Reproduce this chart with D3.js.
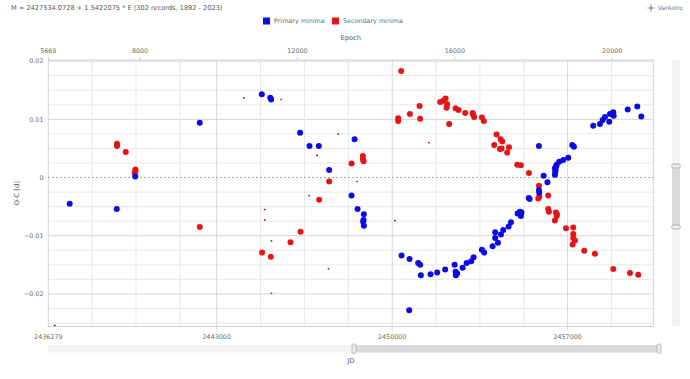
<!DOCTYPE html>
<html>
<head>
<meta charset="utf-8">
<script src="https://cdn.jsdelivr.net/npm/d3@7/dist/d3.min.js"></script>
<style>
  html, body { margin: 0; padding: 0; background: #fff; }
  svg { display: block; font-family: "DejaVu Sans", Verdana, sans-serif; }
</style>
</head>
<body>
<svg id="chart" width="690" height="379"></svg>
<script>
// ---------------- data ----------------
const titleText = "M = 2427534.0728 + 1.5422075 * E (302 records, 1892 - 2023)";
const seriesNames = ["Primary minima", "Secondary minima"];

const primaryJD = [2437133, 2439010, 2439748, 2442323, 2444798, 2445169, 2445137, 2446327, 2446702, 2447073,
  2447485, 2448499, 2448379, 2448618, 2448870, 2448858, 2448842, 2448870, 2450375, 2450694,
  2451037, 2451117, 2451145, 2450678, 2451532, 2451796, 2452115, 2452491, 2452530, 2452594,
  2452542, 2452810, 2452970, 2453153, 2453249, 2453580, 2453672, 2454008, 2454219, 2454111,
  2454111, 2454339, 2454431, 2454646, 2454738, 2455005, 2455097, 2455137, 2455484, 2455856,
  2456043, 2456195, 2455856, 2455868, 2456494, 2456494, 2456506, 2456562, 2456666, 2456826,
  2457025, 2457185, 2457253, 2458023, 2458291, 2458399, 2458490, 2458662, 2458690, 2458822,
  2458838, 2459397, 2459780, 2459939, 2455450, 2455120, 2456520, 2456540, 2455160];
const primaryOC = [-0.0045, -0.0054, 0.0002, 0.0094, 0.0143, 0.0134, 0.0137, 0.0077, 0.0054, 0.0054,
  0.0013, 0.0066, -0.0031, -0.0054, -0.0063, -0.0073, -0.0076, -0.0083, -0.0134, -0.0140,
  -0.0147, -0.0150, -0.0168, -0.0228, -0.0166, -0.0163, -0.0158, -0.0150, -0.0162, -0.0165,
  -0.0168, -0.0155, -0.0147, -0.0144, -0.0137, -0.0124, -0.0129, -0.0118, -0.0112, -0.0104,
  -0.0094, -0.0098, -0.0090, -0.0084, -0.0077, -0.0062, -0.0059, -0.0066, -0.0037, 0.0054,
  0.0003, -0.0008, -0.0022, -0.0026, 0.0016, 0.0005, 0.0010, 0.0022, 0.0027, 0.0030,
  0.0034, 0.0056, 0.0053, 0.0089, 0.0092, 0.0099, 0.0104, 0.0096, 0.0109, 0.0112,
  0.0106, 0.0117, 0.0122, 0.0105, -0.0035, -0.0064, 0.0013, 0.0019, -0.0060];

const primaryLowJD = [2444079, 2447006, 2450107, 2436534];
const primaryLowOC = [0.0137, 0.0038, -0.0074, -0.0254];

const secondaryJD = [2439021, 2439021, 2439369, 2439756, 2439756, 2439728, 2442323, 2444810, 2445157, 2445944,
  2446343, 2447085, 2447485, 2448379, 2448830, 2448830, 2448858, 2450359, 2450239, 2450239,
  2450706, 2451093, 2451117, 2451916, 2452035, 2452131, 2452195, 2452171, 2452275, 2452530,
  2452650, 2452914, 2453209, 2453233, 2453273, 2453580, 2453660, 2454167, 2454327, 2454391,
  2454071, 2454299, 2454658, 2454590, 2454367, 2454990, 2455137, 2455457, 2455856, 2455828,
  2455868, 2456227, 2456227, 2456255, 2456534, 2456562, 2456494, 2456574, 2456934, 2457225,
  2457225, 2457225, 2457293, 2457201, 2457664, 2458091, 2458822, 2459489, 2459820];
const secondaryOC = [0.0058, 0.0054, 0.0044, 0.0014, 0.0011, 0.0008, -0.0085, -0.0129, -0.0136, -0.0111,
  -0.0093, -0.0038, -0.0007, 0.0024, 0.0037, 0.0032, 0.0028, 0.0183, 0.0102, 0.0097,
  0.0109, 0.0123, 0.0101, 0.0130, 0.0132, 0.0136, 0.0126, 0.0120, 0.0092, 0.0119,
  0.0116, 0.0111, 0.0111, 0.0108, 0.0104, 0.0103, 0.0097, 0.0074, 0.0066, 0.0062,
  0.0056, 0.0049, 0.0052, 0.0043, 0.0050, 0.0022, 0.0021, 0.0008, -0.0014, -0.0036,
  -0.0033, -0.0031, -0.0054, -0.0059, -0.0060, -0.0066, -0.0074, -0.0063, -0.0087, -0.0086,
  -0.0097, -0.0104, -0.0108, -0.0115, -0.0126, -0.0131, -0.0157, -0.0164, -0.0167];

const secondaryLowJD = [2445568, 2447844, 2448602, 2446686, 2444918, 2444918, 2445185, 2447461, 2445185, 2451465];
const secondaryLowOC = [0.0134, 0.0075, -0.0007, -0.0031, -0.0055, -0.0073, -0.0109, -0.0157, -0.0199, 0.0060];

const jdTicks = [2436279, 2443000, 2450000, 2457000];
const jdMajorGrid = [2443000, 2450000, 2457000];
const jdMinorGrid = [2438029, 2439779, 2441529, 2444750, 2446500, 2448250, 2451750, 2453500, 2455250, 2458750];
const epochTicks = [5669, 8000, 12000, 16000, 20000];
const ocTicks = [0.02, 0.01, 0, -0.01, -0.02];
const ocGrid = [0.0175, 0.015, 0.0125, 0.0075, 0.005, 0.0025, -0.0025, -0.005, -0.0075, -0.0125, -0.015, -0.0175, -0.0225, -0.025];
const jdDomain = [2436279, 2460419];
const epochDomain = [5669, 21044];
const ocDomain = [-0.0256, 0.0202];

// ---------------- layout ----------------
const L = 48.3, R = 653.3, T = 60, B = 326.5;
const blue = "#0a0ae6", red = "#e61414";
const textCol = "#6b6b6b";
const fs = 6.4;

const svg = d3.select("#chart");
const x = d3.scaleLinear().domain(jdDomain).range([L, R]);
const xe = d3.scaleLinear().domain(epochDomain).range([L, R]);
const y = d3.scaleLinear().domain(ocDomain).range([B, T]);

// title
svg.append("text").attr("x", 11).attr("y", 9.5).attr("font-size", fs + 0.2).attr("fill", "#555").text(titleText);

// VarAstro logo
const logo = svg.append("g").attr("transform", "translate(651,8)");
logo.append("path").attr("d", "M0,-5 L0.7,-0.7 L5,0 L0.7,0.7 L0,5 L-0.7,0.7 L-5,0 L-0.7,-0.7 Z").attr("fill", "#888");
logo.append("text").attr("x", 7).attr("y", 2.2).attr("font-size", 5.9).attr("fill", "#777").text("VarAstro");

// legend
const legendItems = [{name: seriesNames[0], color: blue, x: 263}, {name: seriesNames[1], color: red, x: 332}];
legendItems.forEach(d => {
  svg.append("rect").attr("x", d.x).attr("y", 17.5).attr("width", 7).attr("height", 7).attr("fill", d.color);
  svg.append("text").attr("x", d.x + 11).attr("y", 23.4).attr("font-size", fs).attr("fill", textCol).text(d.name);
});

// axis titles
svg.append("text").attr("x", (L + R) / 2).attr("y", 39.5).attr("text-anchor", "middle").attr("font-size", fs + 0.3).attr("fill", "#555").text("Epoch");
svg.append("text").attr("transform", `translate(18.5,${(T + B) / 2}) rotate(-90)`).attr("text-anchor", "middle").attr("font-size", fs + 0.3).attr("fill", "#555").text("O-C [d]");
svg.append("text").attr("x", (L + R) / 2).attr("y", 362.5).attr("text-anchor", "middle").attr("font-size", fs + 0.3).attr("fill", "#555").text("JD");

// grid
const g = svg.append("g");
g.selectAll(".hg").data(ocGrid).join("line")
  .attr("x1", L).attr("x2", R).attr("y1", d => y(d)).attr("y2", d => y(d))
  .attr("stroke", "#e8e8e8").attr("stroke-width", 1);
g.selectAll(".hgM").data(ocTicks.filter(d => d !== 0)).join("line")
  .attr("x1", L).attr("x2", R).attr("y1", d => y(d)).attr("y2", d => y(d))
  .attr("stroke", "#d6d6d6").attr("stroke-width", 1);
g.selectAll(".vg").data(jdMinorGrid).join("line")
  .attr("x1", d => x(d)).attr("x2", d => x(d)).attr("y1", T).attr("y2", B)
  .attr("stroke", "#e8e8e8").attr("stroke-width", 1);
g.selectAll(".vgM").data(jdMajorGrid).join("line")
  .attr("x1", d => x(d)).attr("x2", d => x(d)).attr("y1", T).attr("y2", B + 4)
  .attr("stroke", "#d6d6d6").attr("stroke-width", 1);
// border
g.append("rect").attr("x", L).attr("y", T).attr("width", R - L).attr("height", B - T)
  .attr("fill", "none").attr("stroke", "#d4d4d4").attr("stroke-width", 1);
// zero line
g.append("line").attr("x1", L).attr("x2", R).attr("y1", y(0)).attr("y2", y(0))
  .attr("stroke", "#888").attr("stroke-width", 1).attr("stroke-dasharray", "1.5,2.5");

// axes labels
svg.selectAll(".yl").data(ocTicks).join("text")
  .attr("x", 43.5).attr("y", d => y(d) + 2.2).attr("text-anchor", "end")
  .attr("font-size", fs).attr("fill", textCol).text(d => d3.format("")(d));
svg.selectAll(".xl").data(jdTicks).join("text")
  .attr("x", d => x(d)).attr("y", 338.5).attr("text-anchor", "middle")
  .attr("font-size", fs).attr("fill", textCol).text(d => d);
svg.selectAll(".el").data(epochTicks).join("text")
  .attr("x", d => xe(d)).attr("y", 52.5).attr("text-anchor", "middle")
  .attr("font-size", fs).attr("fill", textCol).text(d => d);
svg.selectAll(".et").data(epochTicks).join("line")
  .attr("x1", d => xe(d)).attr("x2", d => xe(d)).attr("y1", T - 3).attr("y2", T)
  .attr("stroke", "#ccc");

// points
const dots = svg.append("g");
function drawSeries(jd, oc, color, r) {
  dots.append("g").selectAll("circle").data(jd.map((d, i) => [d, oc[i]])).join("circle")
    .attr("cx", d => x(d[0])).attr("cy", d => y(d[1])).attr("r", r).attr("fill", color);
}
drawSeries(secondaryJD, secondaryOC, red, 3);
drawSeries(secondaryLowJD, secondaryLowOC, "#b01010", 0.9);
drawSeries(primaryJD, primaryOC, blue, 3);
drawSeries(primaryLowJD, primaryLowOC, "#10108a", 0.9);

// right vertical scrollbar
svg.append("rect").attr("x", 672).attr("y", T).attr("width", 8).attr("height", B - T).attr("fill", "#f3f3f3");
svg.append("rect").attr("x", 672).attr("y", 166).attr("width", 8).attr("height", 61).attr("fill", "#d9d9d9");
[166, 227].forEach(v => {
  svg.append("rect").attr("x", 671.5).attr("y", v - 2).attr("width", 9).attr("height", 4).attr("rx", 2)
    .attr("fill", "#ececec").attr("stroke", "#9a9a9a").attr("stroke-width", 0.6);
});

// bottom horizontal scrollbar
svg.append("rect").attr("x", L).attr("y", 345).attr("width", 661 - L).attr("height", 7.5).attr("fill", "#f3f3f3");
svg.append("rect").attr("x", 354).attr("y", 345).attr("width", 659 - 354).attr("height", 7.5).attr("fill", "#d9d9d9");
[354, 659].forEach(v => {
  svg.append("rect").attr("x", v - 2).attr("y", 343.8).attr("width", 4).attr("height", 10).attr("rx", 2)
    .attr("fill", "#ececec").attr("stroke", "#9a9a9a").attr("stroke-width", 0.6);
});
</script>
</body>
</html>
